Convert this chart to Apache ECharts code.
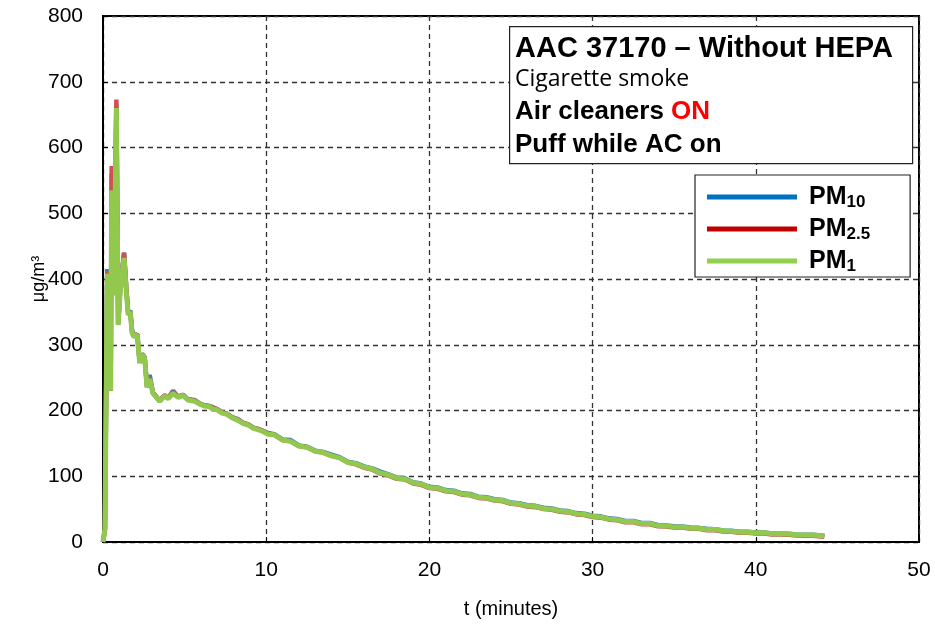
<!DOCTYPE html>
<html>
<head>
<meta charset="utf-8">
<script src="https://cdn.jsdelivr.net/npm/echarts@6/dist/echarts.min.js"></script>
<style>html,body{margin:0;padding:0;background:#fff;}#c{width:935px;height:631px;}</style>
</head>
<body>
<div id="c"></div>
<script>
const times = [0,0.12,0.26,0.33,0.47,0.53,0.67,0.82,0.93,1.05,
  1.29,1.43,1.55,1.67,1.78,1.9,2.1,2.25,2.4,2.55,
  2.7,2.86,3.06,3.27,3.47,3.78,4.0,4.29,4.6,4.9,
  5.2,5.62,5.9,6.2,6.5,6.74,7.0,7.3,7.6,7.9,
  8.27,8.6,8.9,9.2,9.5,9.8,10.1,
  10.5,11,11.5,12,12.5,13,13.5,14,14.5,15,
  15.5,16,16.5,17,17.5,18,18.5,19,19.5,20,
  20.5,21,21.5,22,22.5,23,23.5,24,24.5,25,
  25.5,26,26.5,27,27.5,28,28.5,29,29.5,30,
  30.5,31,31.5,32,32.5,33,33.5,34,34.5,35,
  35.5,36,36.5,37,37.5,38,38.5,39,39.5,40,
  40.5,41,41.5,42,42.5,43,43.5,44,44.2];

const pm1 = [0,20,408,370,230,535,375,660,330,380,
  432,380,345,350,318,312,315,272,285,280,
  235,248,226,220,214,222,218,226,220,223,
  216,214,210,207,206,202,201,196,194,189,
  185,180,178,173,171,168,164,
  163,155,153,146,144,138,136,131,128,121,
  119,114,111,105,102,97,96,90,88,83,
  82,78,77,73,72,68,67,64,63,59,
  58,55,54,51,50,47,46,43,42,39,
  38,35,34,31,31,28,28,25,24.5,23,
  23,21,21,19,19,17,16.5,15,15,14,
  14,12.5,12.5,12,11,10.5,10.5,9.5,9];

const pm10 = [0,20,415,372,230,560,376,665,331,382,
  440,386,346,352,322,313,316,273,286,281,
  236,254,227,221,215,223,219,230,221,224,
  217,216,211,208,207,205,202,197,195,190,
  187,181,179,174,172,169,166,
  164,156,155,147,145,139,137,133,129,122,
  120,115,112,107,103,98,97,91,89,84,
  83,79,78,74,73,69,68,65,64,60,
  59,56,55,52,51,48,47,44,43,40,
  39,36,35,32,32,29,29,26,25,24,
  23.5,22,21.5,20,19.5,17.5,17,15.5,15.5,14.5,
  14.5,13,13,12.5,11.5,11,11,10,9.5];

const pm25 = [0,20,412,371,230,572,377,673,332,384,
  440,384,346,351,320,313,316,273,286,281,
  236,250,227,221,215,223,219,228,221,224,
  217,215,211,208,207,204,202,197,195,190,
  186,181,179,174,172,169,165,
  163,155,153,146,144,138,136,131,128,121,
  118,113,110,104,101,96,95,89,87,82,
  81,77,76,72,71,67,66,63,62,58,
  57,54,53,50,49,46,45,42,41,38,
  37,34,33,30,30,27,27,24,23.5,22,
  22,20,20,18,18,16,15.5,14,14,13,
  13,11.5,11.5,11,10,9.5,9.5,8.5,8];

const xTicks = [0,10,20,30,40,50];
const yTicks = [0,100,200,300,400,500,600,700,800];
const seriesNames = ['PM10','PM2.5','PM1'];
const boxLines = ['AAC 37170 \u2013 Without HEPA','Cigarette smoke','Air cleaners ','ON','Puff while AC on'];

function pairs(vals){ return times.map((t,i)=>[t, vals[i]]); }

const chart = echarts.init(document.getElementById('c'), null, {renderer:'canvas'});
const font = 'Liberation Sans, Arial, sans-serif';
const grid = {left:103, right:16, top:16, bottom:89, show:true, borderColor:'#000', borderWidth:2, backgroundColor:'#fff'};
const split = {show:true, lineStyle:{color:'#333', width:1.3, type:[5,4]}};
const boldFont = 'bold 26px "Liberation Sans", Arial, sans-serif';

const option = {
  animation:false,
  grid: grid,
  xAxis: {
    type:'value', min:xTicks[0], max:xTicks[xTicks.length-1], interval:10,
    axisLine:{show:true, onZero:false, lineStyle:{color:'#000', width:2}},
    axisTick:{show:true, inside:true, length:5, lineStyle:{color:'#000'}},
    axisLabel:{color:'#000', fontSize:21, fontFamily:font, margin:18},
    splitLine: split,
    name:'t (minutes)', nameLocation:'middle', nameGap:57, nameMoveOverlap:false,
    nameTextStyle:{color:'#000', fontSize:20, fontFamily:font}
  },
  yAxis: {
    type:'value', min:yTicks[0], max:yTicks[yTicks.length-1], interval:100,
    axisLine:{show:true, lineStyle:{color:'#000', width:2}},
    axisTick:{show:true, inside:true, length:5, lineStyle:{color:'#000'}},
    axisLabel:{color:'#000', fontSize:21, fontFamily:font, margin:20},
    splitLine: split,
    name:'\u03bcg/m\u00b3', nameLocation:'middle', nameGap:55, nameMoveOverlap:false,
    nameTextStyle:{color:'#000', fontSize:18, fontFamily:font}
  },
  legend: {
    orient:'vertical', left:695, top:175,
    padding:[8,40,2,12],
    borderColor:'#222', borderWidth:1.2, backgroundColor:'#fff',
    icon:'rect', itemWidth:90, itemHeight:5, itemGap:4,
    data: seriesNames,
    formatter: function(n){
      if(n==='PM10') return '{a|PM}{s|10}';
      if(n==='PM2.5') return '{a|PM}{s|2.5}';
      return '{a|PM}{s|1}';
    },
    textStyle:{
      rich:{
        a:{fontSize:25, fontWeight:'bold', color:'#000', fontFamily:font, padding:[0,0,0,7], lineHeight:26},
        s:{fontSize:17, fontWeight:'bold', color:'#000', fontFamily:font, padding:[11,0,0,0], lineHeight:26}
      }
    }
  },
  series: [
    {name:seriesNames[0], type:'line', data:pairs(pm10), showSymbol:false, color:'#0070C0', lineStyle:{width:4.5, color:'#3a7fc4'}, z:2},
    {name:seriesNames[1], type:'line', data:pairs(pm25), showSymbol:false, color:'#C00000', lineStyle:{width:4.5, color:'#d05050'}, z:3},
    {name:seriesNames[2], type:'line', data:pairs(pm1), showSymbol:false, color:'#92D050', lineStyle:{width:5, color:'#92c84e'}, z:4}
  ],
  graphic: [
    {type:'rect', left:509, top:26, shape:{width:403, height:137}, style:{fill:'#fff', stroke:'#222', lineWidth:1.2}, z:10},
    {type:'text', left:515, top:34, z:11, style:{text:boxLines[0], font:'bold 29px "Liberation Sans", Arial, sans-serif', fill:'#000'}},
    {type:'text', left:515, top:68, z:11, style:{text:boxLines[1], font:'23px "Open Sans", sans-serif', fill:'#000'}},
    {type:'text', left:515, top:99, z:11, style:{text:'{b|'+boxLines[2]+'}{r|'+boxLines[3]+'}', rich:{b:{font:boldFont, fill:'#000'}, r:{font:boldFont, fill:'#ff0000'}}}},
    {type:'text', left:515, top:132, z:11, style:{text:boxLines[4], font:boldFont, fill:'#000'}}
  ]
};
chart.setOption(option);
</script>
</body>
</html>
